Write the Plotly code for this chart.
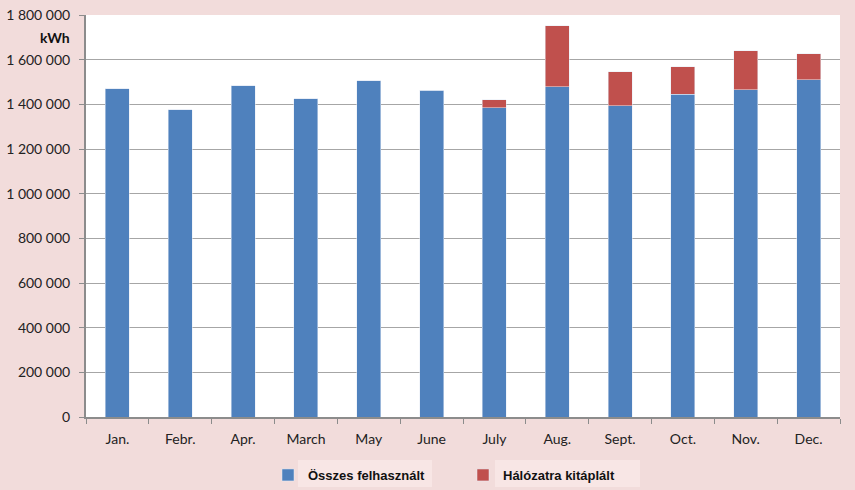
import plotly.graph_objects as go

months = ["Jan.", "Febr.", "Apr.", "March", "May", "June", "July", "Aug.", "Sept.", "Oct.", "Nov.", "Dec."]
used = [1470000, 1375000, 1484000, 1424000, 1505000, 1462000, 1384000, 1479000, 1394000, 1446000, 1466000, 1511000]
fed_in = [0, 0, 0, 0, 0, 0, 36000, 274000, 151000, 123000, 173000, 115000]
y_ticks = [0, 200000, 400000, 600000, 800000, 1000000, 1200000, 1400000, 1600000, 1800000]

fig = go.Figure()
fig.add_trace(go.Bar(x=months, y=used, name="Összes felhasznált", marker_color="#4f81bd"))
fig.add_trace(go.Bar(x=months, y=fed_in, name="Hálózatra kitáplált", marker_color="#c0504d"))

fig.update_layout(
    width=855, height=490,
    barmode="stack", bargap=0.62,
    paper_bgcolor="#f2dcdb", plot_bgcolor="white",
    margin=dict(l=86, r=15, t=15, b=73, autoexpand=False),
    separators=", ",
    font=dict(family="Lato, Open Sans, sans-serif", size=14, color="#222"),
    showlegend=True,
    legend=dict(orientation="h", traceorder="normal",
                xref="container", yref="container",
                x=268 / 855, xanchor="left", y=15 / 490, yanchor="middle",
                font=dict(family="Liberation Sans, Arial", size=13, color="#111", weight="bold"),
                itemwidth=30, entrywidth=150, bgcolor="rgba(0,0,0,0)"),
    shapes=[
        dict(type="rect", xref="paper", yref="paper", layer="below",
             x0=(298 - 86) / 754, x1=(432 - 86) / 754, y0=-(460 - 417) / 402, y1=-(487 - 417) / 402,
             fillcolor="#f8e6e5", line=dict(width=0)),
        dict(type="rect", xref="paper", yref="paper", layer="below",
             x0=(495 - 86) / 754, x1=(640 - 86) / 754, y0=-(460 - 417) / 402, y1=-(487 - 417) / 402,
             fillcolor="#f8e6e5", line=dict(width=0)),
    ],
)
fig.update_yaxes(range=[0, 1800000], tickvals=y_ticks, tickformat=",d",
                 showgrid=True, gridcolor="#a6a6a6", gridwidth=1,
                 showline=True, linecolor="#8c8c8c", linewidth=2,
                 ticks="outside", ticklen=5, tickcolor="#8c8c8c", zeroline=False,
                 ticklabelstandoff=6, automargin=False)
fig.update_xaxes(showline=True, linecolor="#8c8c8c", linewidth=2,
                 ticks="outside", tickson="boundaries", ticklen=5, tickcolor="#8c8c8c",
                 ticklabelstandoff=8, automargin=False)
fig.add_annotation(text="<b>kWh</b>", xref="paper", yref="paper", x=-0.018, y=0.945,
                   xanchor="right", yanchor="middle", showarrow=False,
                   font=dict(family="Lato, sans-serif", size=14, color="#111"))
fig.write_html("out.html", config={"displayModeBar": False},
               post_script="document.body.style.margin='0px';")
